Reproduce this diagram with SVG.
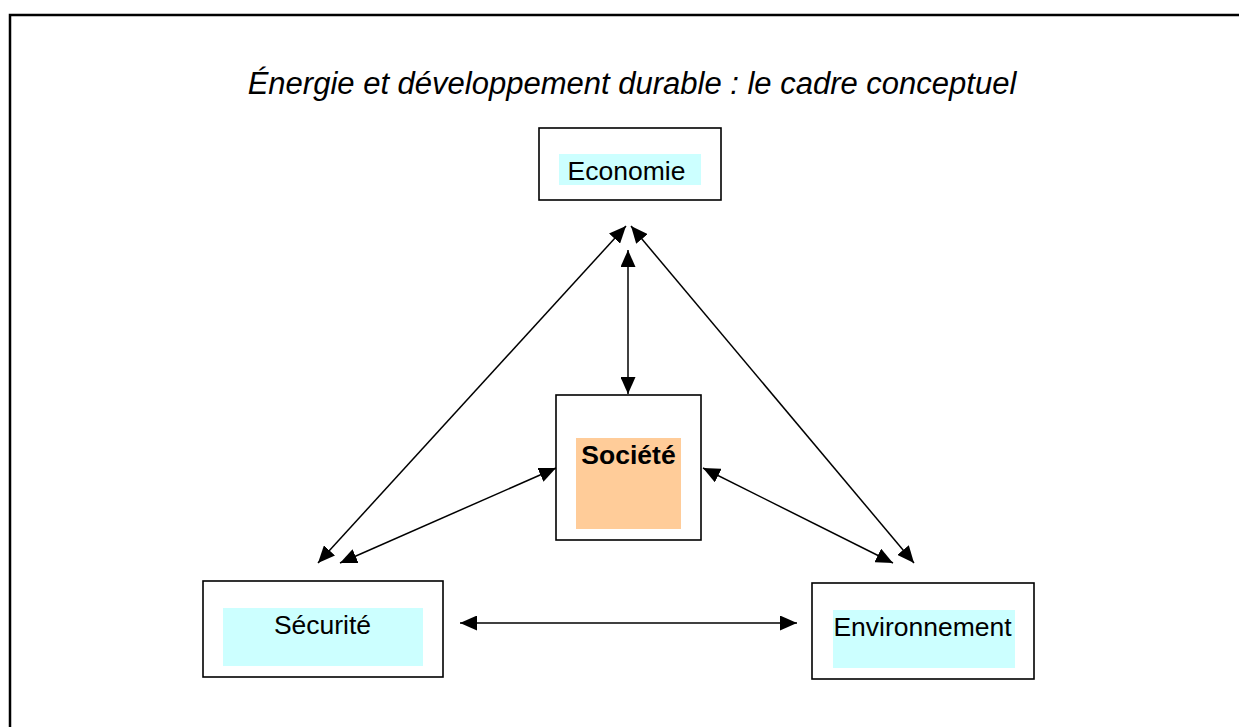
<svg xmlns="http://www.w3.org/2000/svg" width="1239" height="727" viewBox="0 0 1239 727">
  <style>
    .frame { fill: none; stroke: #000; stroke-width: 2.5; }
    .box { fill: #fff; stroke: #000; stroke-width: 1.6; }
    .cyan { fill: #ccffff; }
    .orange { fill: #ffcc99; }
    .lbl { font-family: "Liberation Sans", Arial, sans-serif; font-size: 26.5px; fill: #000; }
    .title { font-family: "Liberation Sans", Arial, sans-serif; font-size: 31px; font-style: italic; fill: #000; }
    .link { stroke: #000; stroke-width: 1.5; fill: none; marker-start: url(#head); marker-end: url(#head); }
  </style>
  <defs>
    <marker id="head" viewBox="0 0 17 15" refX="17" refY="7.5" markerWidth="17" markerHeight="15" markerUnits="userSpaceOnUse" orient="auto-start-reverse">
      <path d="M0,0 L17,7.5 L0,15 Z" fill="#000"/>
    </marker>
  </defs>

  <rect width="1239" height="727" fill="#fff"/>
  <rect class="frame" x="10" y="15" width="1250" height="730"/>

  <text class="title" x="632" y="94" text-anchor="middle">Énergie et développement durable : le cadre conceptuel</text>

  <g id="connectors">
    <line class="link" x1="628" y1="250" x2="628" y2="394"/>
    <line class="link" x1="626" y1="226" x2="318" y2="563"/>
    <line class="link" x1="631" y1="226" x2="914" y2="563"/>
    <line class="link" x1="556" y1="468" x2="340" y2="563"/>
    <line class="link" x1="703" y1="468" x2="893" y2="563"/>
    <line class="link" x1="460" y1="623" x2="797" y2="623"/>
  </g>

  <g id="economie">
    <rect class="box" x="539" y="128" width="182" height="72"/>
    <rect class="cyan" x="559" y="154" width="142" height="31"/>
    <text class="lbl" x="626.5" y="180" text-anchor="middle">Economie</text>
  </g>

  <g id="societe">
    <rect class="box" x="556" y="395" width="145" height="145"/>
    <rect class="orange" x="576" y="438" width="105" height="91"/>
    <text class="lbl" x="628.5" y="464" text-anchor="middle" font-weight="bold">Société</text>
  </g>

  <g id="securite">
    <rect class="box" x="203" y="581" width="240" height="96"/>
    <rect class="cyan" x="223" y="608" width="200" height="58"/>
    <text class="lbl" x="322.5" y="634" text-anchor="middle">Sécurité</text>
  </g>

  <g id="environnement">
    <rect class="box" x="812" y="583" width="222" height="96"/>
    <rect class="cyan" x="833" y="610" width="182" height="58"/>
    <text class="lbl" x="922.5" y="636" text-anchor="middle">Environnement</text>
  </g>
</svg>
